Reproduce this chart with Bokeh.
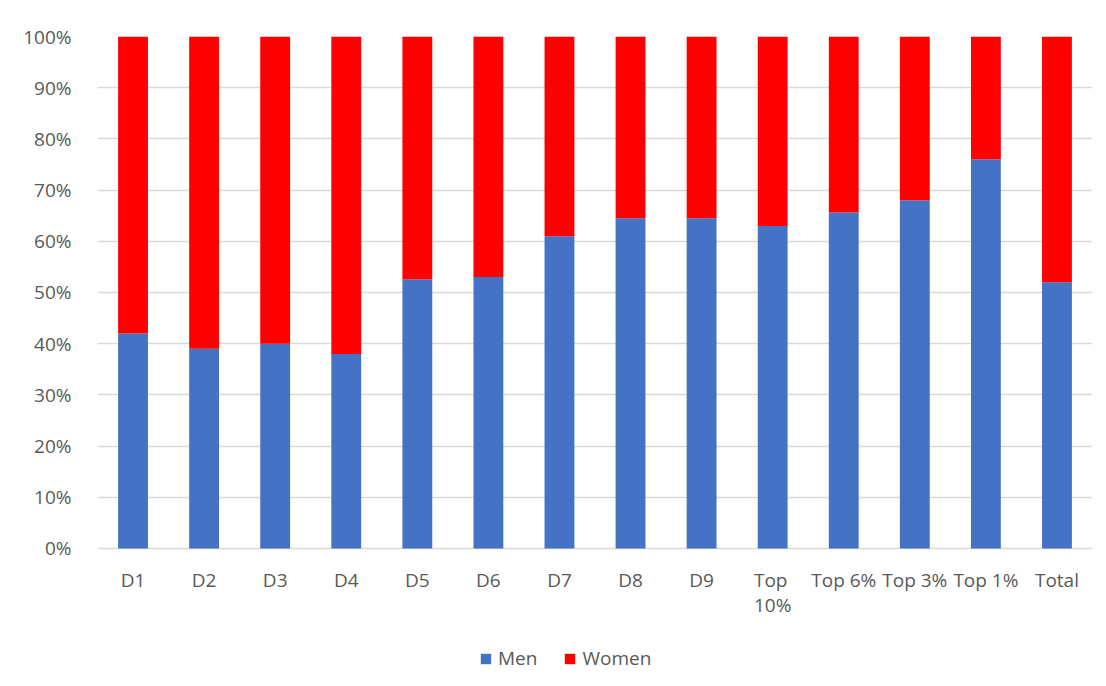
from bokeh.plotting import figure
from bokeh.models import (ColumnDataSource, Legend, LegendItem, NumeralTickFormatter,
                          FixedTicker, LabelSet)
from bokeh.core.properties import value
from bokeh.embed import file_html
from bokeh.resources import INLINE

categories = ["D1", "D2", "D3", "D4", "D5", "D6", "D7", "D8", "D9",
              "Top 10%", "Top 6%", "Top 3%", "Top 1%", "Total"]
tick_labels = ["D1", "D2", "D3", "D4", "D5", "D6", "D7", "D8", "D9",
               "Top\n10%", "Top 6%", "Top 3%", "Top 1%", "Total"]
men = [0.42, 0.39, 0.40, 0.38, 0.526, 0.53, 0.61, 0.645, 0.645,
       0.63, 0.656, 0.68, 0.76, 0.52]
women = [1 - m for m in men]
y_ticks = [0.0, 0.1, 0.2, 0.3, 0.4, 0.5, 0.6, 0.7, 0.8, 0.9, 1.0]

FONT = "Open Sans"
TXT = "#595959"
FS = "19px"

src = ColumnDataSource(dict(cat=categories, Men=men, Women=women))

# frame extends below 0% to hold the category labels and the legend
p = figure(x_range=categories, y_range=(-0.26, 1),
           frame_width=995, frame_height=645,
           output_backend="svg", toolbar_location=None,
           min_border_left=97, min_border_right=10, min_border_top=36,
           min_border_bottom=0)

r = p.vbar_stack(["Men", "Women"], x="cat", width=0.42, source=src,
                 color=["#4472C4", "#FF0000"], line_color=None)

p.outline_line_color = None
p.border_fill_color = "white"

p.yaxis.ticker = FixedTicker(ticks=y_ticks)
p.yaxis.formatter = NumeralTickFormatter(format="0%")
p.yaxis.axis_line_color = None
p.yaxis.major_tick_line_color = None
p.yaxis.minor_tick_line_color = None
p.yaxis.major_label_text_font = FONT
p.yaxis.major_label_text_font_size = FS
p.yaxis.major_label_text_color = TXT
p.yaxis.major_label_standoff = 20

p.xaxis.visible = False

p.xgrid.grid_line_color = None
p.ygrid.grid_line_color = "#d9d9d9"
p.ygrid.grid_line_width = 1.5

p.x_range.range_padding = 0
p.x_range.factor_padding = 0

# category labels (with the wrapped "Top 10%")
lab_src = ColumnDataSource(dict(cat=categories, txt=tick_labels,
                                y=[-0.037] * len(categories)))
p.add_layout(LabelSet(x="cat", y="y", text="txt", source=lab_src,
                      text_align="center", text_baseline="top",
                      text_font=value(FONT), text_font_size=value(FS),
                      text_color=TXT, text_line_height=0.96))

legend = Legend(items=[LegendItem(label="Men", renderers=[r[0]]),
                       LegendItem(label="Women", renderers=[r[1]])],
                orientation="horizontal", location=(382, 10),
                label_text_font=FONT, label_text_font_size=FS,
                label_text_color=TXT, border_line_color=None,
                background_fill_alpha=0,
                glyph_width=13, glyph_height=13, spacing=26,
                label_standoff=6, margin=0, padding=4)
p.add_layout(legend, "center")

open("out.html", "w").write(file_html(p, INLINE))
